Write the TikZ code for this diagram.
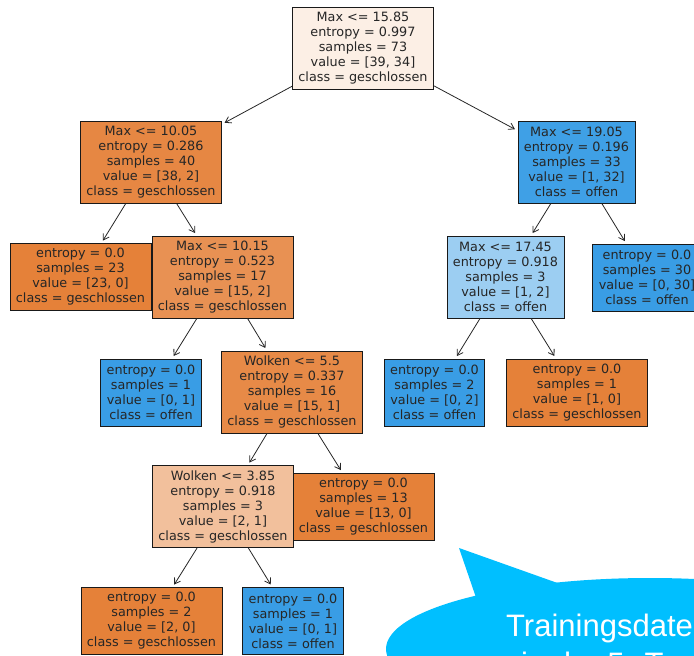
\documentclass[tikz,border=0pt]{standalone}
\usepackage{fontspec}
\setmainfont{DejaVu Sans}
\newfontfamily\bubblefont{Liberation Sans}
\usetikzlibrary{arrows.meta}
\definecolor{orng}{RGB}{229,129,57}
\definecolor{blu}{RGB}{57,157,229}
\definecolor{bubble}{RGB}{0,191,255}
\begin{document}
\begin{tikzpicture}[x=1pt,y=-1pt,
  tnode/.style={draw=black!90, line width=0.8pt, align=center,
    font=\fontsize{12.8}{15}\selectfont, inner xsep=6pt, inner ysep=0pt, text=black!85},
  split/.style={tnode, minimum height=82pt},
  leaf/.style={tnode, minimum height=67pt},
  edge/.style={-{Straight Barb[length=5.5pt,width=7pt]}, line width=0.8pt, shorten >=3pt, draw=black!85}]
\useasboundingbox (0,0) rectangle (694,656);
\clip (0,0) rectangle (694,656);

% nodes in sklearn drawing order
\node[split, fill=orng!13!white] (n1) at (363,48) {Max <= 15.85\\entropy = 0.997\\samples = 73\\value = [39, 34]\\class = geschlossen};
\node[split, fill=orng!95!white] (n2) at (151,162.5) {Max <= 10.05\\entropy = 0.286\\samples = 40\\value = [38, 2]\\class = geschlossen};
\node[leaf, fill=orng] (n4) at (80.5,277) {entropy = 0.0\\samples = 23\\value = [23, 0]\\class = geschlossen};
\node[split, fill=orng!87!white] (n5) at (222.5,277) {Max <= 10.15\\entropy = 0.523\\samples = 17\\value = [15, 2]\\class = geschlossen};
\node[leaf, fill=blu] (n8) at (151,392.5) {entropy = 0.0\\samples = 1\\value = [0, 1]\\class = offen};
\node[split, fill=orng!93!white] (n9) at (292,392) {Wolken <= 5.5\\entropy = 0.337\\samples = 16\\value = [15, 1]\\class = geschlossen};
\node[split, fill=orng!50!white] (n12) at (223,506.5) {Wolken <= 3.85\\entropy = 0.918\\samples = 3\\value = [2, 1]\\class = geschlossen};
\node[leaf, fill=orng] (n14) at (151.5,621) {entropy = 0.0\\samples = 2\\value = [2, 0]\\class = geschlossen};
\node[leaf, fill=blu] (n15) at (293,621) {entropy = 0.0\\samples = 1\\value = [0, 1]\\class = offen};
\node[leaf, fill=orng] (n13) at (363.5,506.5) {entropy = 0.0\\samples = 13\\value = [13, 0]\\class = geschlossen};
\node[split, fill=blu!97!white] (n3) at (576.5,162) {Max <= 19.05\\entropy = 0.196\\samples = 33\\value = [1, 32]\\class = offen};
\node[split, fill=blu!50!white] (n6) at (505.5,277) {Max <= 17.45\\entropy = 0.918\\samples = 3\\value = [1, 2]\\class = offen};
\node[leaf, fill=blu] (n10) at (434.5,392.5) {entropy = 0.0\\samples = 2\\value = [0, 2]\\class = offen};
\node[leaf, fill=orng] (n11) at (577,392.5) {entropy = 0.0\\samples = 1\\value = [1, 0]\\class = geschlossen};
\node[leaf, fill=blu] (n7) at (647,277.5) {entropy = 0.0\\samples = 30\\value = [0, 30]\\class = offen};

% connectors
\draw[edge] (n1) -- (n2);
\draw[edge] (n1) -- (n3);
\draw[edge] (n2) -- (n4);
\draw[edge] (n2) -- (n5);
\draw[edge] (n5) -- (n8);
\draw[edge] (n5) -- (n9);
\draw[edge] (n9) -- (n12);
\draw[edge] (n9) -- (n13);
\draw[edge] (n12) -- (n14);
\draw[edge] (n12) -- (n15);
\draw[edge] (n3) -- (n6);
\draw[edge] (n3) -- (n7);
\draw[edge] (n6) -- (n10);
\draw[edge] (n6) -- (n11);

% speech bubble
\fill[bubble] (650,649) ellipse [x radius=264, y radius=71];
\fill[bubble] (459,548) -- (482,615) -- (580,591) -- cycle;
\node[text=white, font=\bubblefont\fontsize{31}{35}\selectfont, anchor=base west, inner sep=0pt] (b1) at (506,636) {Trainingsdaten};
\node[text=white, font=\bubblefont\fontsize{31}{35}\selectfont, anchor=base west, inner sep=0pt] (b2) at (521,674) {in der 5. T};
\end{tikzpicture}
\end{document}
